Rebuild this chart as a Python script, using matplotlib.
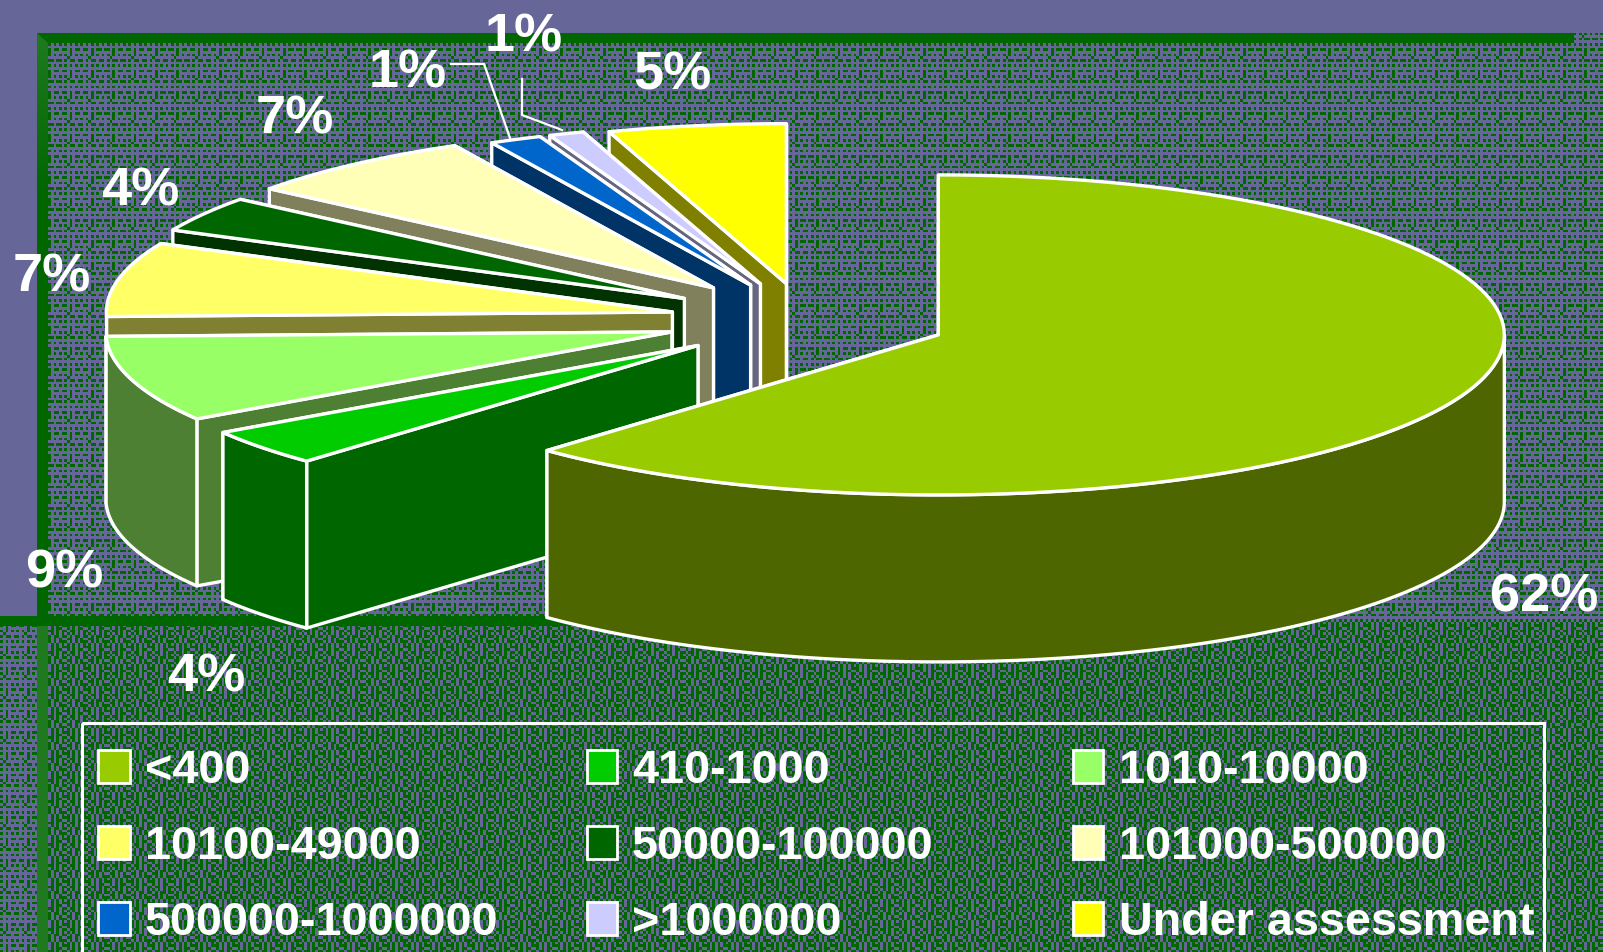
import numpy as np
import matplotlib
matplotlib.use("Agg")
import matplotlib.pyplot as plt
from matplotlib.colors import ListedColormap, LinearSegmentedColormap, to_rgb
from matplotlib.patches import Polygon, Rectangle

# share of each size class, clockwise from 12 o'clock
categories = ["<400", "410-1000", "1010-10000", "10100-49000", "50000-100000",
              "101000-500000", "500000-1000000", ">1000000", "Under assessment"]
values = [62.15, 3.7, 8.7, 7.49, 3.6, 6.8, 1.49, 1.0, 5.07]
colors = ["#99CC00", "#00CC00", "#99FF66", "#FFFF66", "#006600",
          "#FFFFB8", "#0066CC", "#CCCCFF", "#FFFF00"]

# pie layout, in image pixels
W, H = 1603, 952
CX, CY = 807, 320
RX, RY = 566, 160
DEPTH = 167
explode = [0.25, 0.25, 0.25, 0.243, 0.255, 0.26, 0.24, 0.24, 0.23]

PURPLE = "#666699"
GREEN = "#006600"
BAR_LIGHT = "#1F7A1F"

# dither tiles for the slide background
sparse_tile = ["#.#.#.#.",
               "........",
               "#.#.##.#",
               "..#.....",
               "#.#.#.#.",
               ".#......",
               "#.##.##.",
               "........"]
dense_tile = ["#.#.#.##",
              ".#.#.#.#",
              "##.#.#.#",
              ".#.#.##.",
              "#.##.#.#",
              ".#.#.#.#",
              "#.#.##.#",
              ".##.#.#."]


def dither(tile):
    t = np.array([[c == "#" for c in row] for row in tile])
    yy, xx = np.mgrid[0:H, 0:W]
    return t[(yy * 3 // 8) % t.shape[0], (xx * 3 // 8) % t.shape[1]]


def rim(theta):
    # theta in degrees, clockwise from the top
    th = np.radians(theta)
    return RX * np.sin(th), -RY * np.cos(th)


def darker(c):
    return tuple(v * 0.5 for v in to_rgb(c))


fig = plt.figure(figsize=(W / 100, H / 100), dpi=100)
ax = fig.add_axes([0, 0, 1, 1])

# background
mask = np.zeros((H, W), dtype=int)
sp = dither(sparse_tile)
de = dither(dense_tile)
mask[43:622, 47:] = sp[43:622, 47:]
mask[33:43, 1574:] = sp[33:43, 1574:]
mask[622:, :] = sp[622:, :]
mask[622:, 47:] = de[622:, 47:]
ax.imshow(mask, cmap=ListedColormap([PURPLE, GREEN]), vmin=0, vmax=1,
          extent=(0, W, H, 0), interpolation="nearest", aspect="auto", zorder=0)

# frame bars, the left one fades from light to dark
fade = LinearSegmentedColormap.from_list("fade", [BAR_LIGHT, GREEN])
ax.imshow(np.linspace(0, 1, 64).reshape(-1, 1), cmap=fade, extent=(37, 48, 200, 33),
          aspect="auto", zorder=1)
ax.add_patch(Rectangle((37, 200), 11, 416, fc=GREEN, ec="none", zorder=1))
ax.add_patch(Rectangle((37, 626), 11, H - 626, fc=BAR_LIGHT, ec="none", zorder=1))
ax.add_patch(Polygon([(37, 33), (1574, 33), (1574, 43), (48, 43)], closed=True, fc=GREEN, ec="none", zorder=1))
ax.add_patch(Rectangle((0, 616), 800, 10, fc=GREEN, ec="none", zorder=1))

ax.set_xlim(0, W)
ax.set_ylim(H, 0)
ax.axis("off")

# exploded 3d pie, drawn back to front
starts = np.concatenate([[0], np.cumsum(values)[:-1]]) * 3.6
ends = np.cumsum(values) * 3.6
edge = dict(ec="white", lw=2.4, joinstyle="round")
z = 2
for i in range(len(values) - 1, -1, -1):
    a0, a1 = starts[i], ends[i]
    mid = np.radians((a0 + a1) / 2)
    ox = CX + explode[i] * RX * np.sin(mid)
    oy = CY - explode[i] * RY * np.cos(mid)
    wall = darker(colors[i])
    th = np.linspace(a0, a1, 120)
    rx, ry = rim(th)
    top = np.column_stack([np.r_[ox, ox + rx], np.r_[oy, oy + ry]])

    # the two cut faces, the far one first
    for a in (a1, a0):
        ex, ey = rim(a)
        quad = [(ox, oy), (ox + ex, oy + ey), (ox + ex, oy + ey + DEPTH), (ox, oy + DEPTH)]
        ax.add_patch(Polygon(quad, closed=True, fc=wall, zorder=z, **edge))
        z += 1

    # outer wall, only the part facing the viewer
    lo, hi = max(a0, 90), min(a1, 270)
    if hi - lo > 5:
        th2 = np.linspace(lo, hi, 120)
        wx, wy = rim(th2)
        pts = np.r_[np.column_stack([ox + wx, oy + wy]),
                    np.column_stack([ox + wx, oy + wy + DEPTH])[::-1]]
        ax.add_patch(Polygon(pts, closed=True, fc=wall, zorder=z, **edge))
        z += 1

    ax.add_patch(Polygon(top, closed=True, fc=colors[i], zorder=z, **edge))
    z += 1

# percent labels
pct_x = [1544, 206, 64, 52, 140, 295, 408, 524, 672]
pct_y = [598, 677, 573, 277, 191, 119, 73, 37, 75]
for i, v in enumerate(values):
    ax.text(pct_x[i], pct_y[i], "%.0f%%" % v, color="white", fontsize=39, fontweight="bold",
            family="Liberation Sans", ha="center", va="center", zorder=200)

# leader lines of the two small slices
ax.plot([451, 484, 510], [64, 64, 138], color="white", lw=1.6, zorder=200)
ax.plot([522, 522, 562], [79, 115, 130], color="white", lw=1.6, zorder=200)

# legend
ax.add_patch(Rectangle((82, 723), 1462, 240, fc="none", ec="white", lw=2.2, zorder=150))
swatch_x = [98, 587, 1073]
swatch_w = [32, 30, 30]
label_x = [145, 632, 1119]
leg_y = [767, 843, 919]
for i, name in enumerate(categories):
    col = i % 3
    row = i // 3
    y = leg_y[row]
    ax.add_patch(Rectangle((swatch_x[col], y - 17), swatch_w[col], 33, fc=colors[i], ec="white", lw=2, zorder=160))
    ax.text(label_x[col], y + 4, name, color="white", fontsize=33.7, fontweight="bold",
            family="Liberation Sans", ha="left", va="center", zorder=160)

fig.savefig("out.png", dpi=100)
